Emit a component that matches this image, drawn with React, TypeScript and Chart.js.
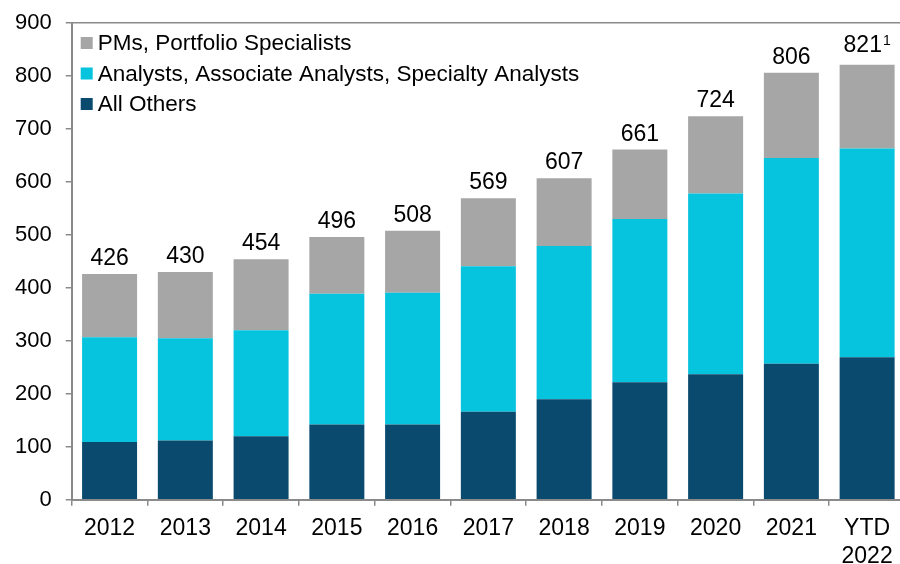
import React, { useEffect, useRef } from 'react';
import { Chart, registerables } from 'chart.js';

Chart.register(...registerables);

const categories: (string | string[])[] = ['2012', '2013', '2014', '2015', '2016', '2017', '2018', '2019', '2020', '2021', ['YTD', '2022']];
const allOthers = [109, 112, 120, 142, 142, 166, 190, 222, 237, 257, 269];
const analysts = [198, 193, 200, 247, 249, 275, 289, 308, 341, 388, 394];
const pms = [119, 125, 134, 107, 117, 128, 128, 131, 146, 161, 158];
const totalLabels = ['426', '430', '454', '496', '508', '569', '607', '661', '724', '806', '821'];
const footnotes = ['', '', '', '', '', '', '', '', '', '', '1'];
const seriesNames = ['All Others', 'Analysts, Associate Analysts, Specialty Analysts', 'PMs, Portfolio Specialists'];

const FONT = "'Liberation Sans', Arial, sans-serif";
const AXIS = '#8a8a8a';
const COLORS = ['#0A4A6E', '#06C3DE', '#A6A6A6'];

const totalsPlugin = {
  id: 'totals',
  afterDatasetsDraw(chart: any) {
    const ctx = chart.ctx;
    const top = chart.getDatasetMeta(chart.data.datasets.length - 1);
    ctx.save();
    ctx.fillStyle = '#000';
    ctx.textBaseline = 'alphabetic';
    top.data.forEach((el: any, i: number) => {
      const main = totalLabels[i];
      const sup = footnotes[i];
      ctx.font = `23px ${FONT}`;
      const wMain = ctx.measureText(main).width;
      ctx.font = `14px ${FONT}`;
      const wSup = sup ? ctx.measureText(sup).width + 1 : 0;
      const total = wMain + wSup;
      const x0 = el.x - total / 2;
      const y = el.y - (sup ? 13 : 9);
      ctx.textAlign = 'left';
      ctx.font = `23px ${FONT}`;
      ctx.fillText(main, x0, y);
      if (sup) {
        ctx.font = `14px ${FONT}`;
        ctx.fillText(sup, x0 + wMain + 1, y - 7);
      }
    });
    ctx.restore();
  },
};

const legendPlugin = {
  id: 'insideLegend',
  afterDraw(chart: any) {
    const ctx = chart.ctx;
    const area = chart.chartArea;
    const ds = chart.data.datasets;
    ctx.save();
    ctx.font = `22.5px ${FONT}`;
    ctx.textBaseline = 'middle';
    ctx.textAlign = 'left';
    const order = [2, 1, 0];
    order.forEach((di, row) => {
      const cy = area.top + 20 + row * 30.5;
      ctx.fillStyle = ds[di].backgroundColor;
      ctx.fillRect(area.left + 9, cy - 6, 12, 12);
      ctx.fillStyle = '#000';
      ctx.fillText(ds[di].label, area.left + 26, cy + 1);
    });
    ctx.restore();
  },
};

export default function App() {
  const ref = useRef<HTMLCanvasElement>(null);
  useEffect(() => {
    document.body.style.margin = '0';
    const chart = new Chart(ref.current!, {
      type: 'bar',
      data: {
        labels: categories,
        datasets: [
          { label: seriesNames[0], data: allOthers, backgroundColor: COLORS[0] },
          { label: seriesNames[1], data: analysts, backgroundColor: COLORS[1] },
          { label: seriesNames[2], data: pms, backgroundColor: COLORS[2] },
        ],
      },
      options: {
        responsive: false,
        animation: false,
        devicePixelRatio: 1,
        layout: { padding: { top: 23, left: 1, right: 0, bottom: 0 } },
        datasets: { bar: { categoryPercentage: 1, barPercentage: 0.726 } },
        plugins: { legend: { display: false }, tooltip: { enabled: false } },
        scales: {
          x: {
            stacked: true,
            border: { display: true, color: AXIS, width: 2 },
            grid: { drawOnChartArea: false, offset: true, tickLength: 6, color: AXIS, lineWidth: 1.5 },
            ticks: { color: '#000', font: { family: FONT, size: 23, lineHeight: 1.2 }, padding: 9, maxRotation: 0, autoSkip: false },
          },
          y: {
            stacked: true,
            min: 0,
            max: 900,
            border: { display: true, color: AXIS, width: 2 },
            grid: {
              tickLength: 6,
              lineWidth: 1.5,
              color: (c: any) => (c.tick && c.tick.value === 900 ? AXIS : 'rgba(0,0,0,0)'),
              tickColor: AXIS,
            },
            ticks: { stepSize: 100, color: '#000', font: { family: FONT, size: 22, lineHeight: 0.8 }, padding: 14 },
          },
        },
      },
      plugins: [totalsPlugin, legendPlugin],
    });
    return () => chart.destroy();
  }, []);
  return (
    <div style={{ position: 'fixed', left: 0, top: 0, width: 900, height: 564, overflow: 'hidden', background: '#fff' }}>
      <canvas ref={ref} width={905} height={579} style={{ display: 'block' }} />
    </div>
  );
}
